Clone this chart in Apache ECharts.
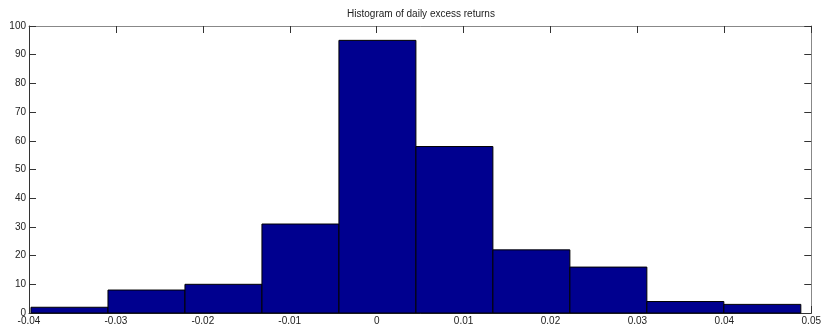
<!DOCTYPE html>
<html>
<head>
<meta charset="utf-8">
<script src="https://cdn.jsdelivr.net/npm/echarts@6/dist/echarts.min.js"></script>
<style>html,body{margin:0;padding:0;background:#fff}#c{width:824px;height:331px}</style>
</head>
<body>
<div id="c"></div>
<script>
var binStart = -0.03977;
var binWidth = 0.008857;
var counts = [2, 8, 10, 31, 95, 58, 22, 16, 4, 3];
var xTicks = [-0.04, -0.03, -0.02, -0.01, 0, 0.01, 0.02, 0.03, 0.04, 0.05];
var yTicks = [0, 10, 20, 30, 40, 50, 60, 70, 80, 90, 100];

var data = counts.map(function (c, i) {
  var x0 = binStart + i * binWidth;
  return [x0, x0 + binWidth, c];
});

var chart = echarts.init(document.getElementById('c'), null, {renderer: 'canvas'});
var font = 'Liberation Sans, Arial, sans-serif';
function fmtX(v) {
  var r = Math.round(v * 100) / 100;
  return r === 0 ? '0' : r.toFixed(2);
}
var baseX = {
  type: 'value', min: xTicks[0], max: xTicks[xTicks.length - 1], interval: 0.01,
  splitLine: {show: false},
  axisTick: {inside: true, length: 7, lineStyle: {color: '#333'}},
  axisLabel: {fontSize: 10, fontFamily: font, color: '#222', margin: 3, formatter: fmtX}
};
var baseY = {
  type: 'value', min: yTicks[0], max: yTicks[yTicks.length - 1], interval: 10,
  splitLine: {show: false},
  axisTick: {inside: true, length: 7, lineStyle: {color: '#333'}},
  axisLabel: {fontSize: 10, fontFamily: font, color: '#222', margin: 3}
};
chart.setOption({
  animation: false,
  title: {
    text: 'Histogram of daily excess returns', left: 421, textAlign: 'center', top: 9, padding: 0,
    textStyle: {fontSize: 10, fontWeight: 'normal', fontFamily: font, color: '#222'}
  },
  grid: {left: 29, right: 10.5, top: 26, bottom: 18, containLabel: false},
  xAxis: [
    Object.assign({}, baseX, {position: 'bottom', axisLine: {onZero: false, lineStyle: {color: '#333'}}}),
    Object.assign({}, baseX, {position: 'top', axisLine: {onZero: false, lineStyle: {color: '#888'}},
      axisTick: {inside: true, length: 7, lineStyle: {color: '#333'}}, axisLabel: {show: false}})
  ],
  yAxis: [
    Object.assign({}, baseY, {position: 'left', axisLine: {show: true, onZero: false, lineStyle: {color: '#333'}}}),
    Object.assign({}, baseY, {position: 'right', axisLine: {show: true, onZero: false, lineStyle: {color: '#888'}},
      axisTick: {inside: true, length: 7, lineStyle: {color: '#333'}}, axisLabel: {show: false}})
  ],
  series: [{
    type: 'custom',
    xAxisIndex: 0, yAxisIndex: 0,
    data: data,
    encode: {x: [0, 1], y: 2},
    renderItem: function (params, api) {
      var p0 = api.coord([api.value(0), api.value(2)]);
      var p1 = api.coord([api.value(1), 0]);
      return {
        type: 'rect',
        shape: {x: p0[0], y: p0[1], width: p1[0] - p0[0], height: p1[1] - p0[1]},
        style: {fill: '#00008F', stroke: '#000', lineWidth: 1}
      };
    }
  }]
});
</script>
</body>
</html>
